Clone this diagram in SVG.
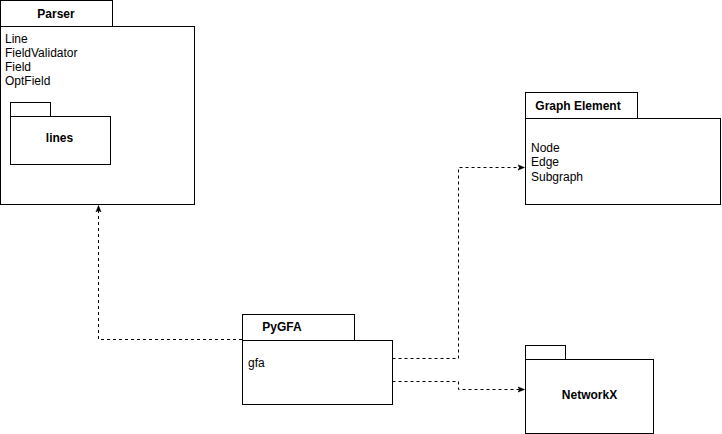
<svg xmlns="http://www.w3.org/2000/svg" width="722" height="434" viewBox="0 0 722 434">
<style>
.box{fill:#fff;stroke:#000;stroke-width:1}
.t{font-family:"Liberation Sans",Arial,sans-serif;font-size:12px;fill:#000}
.b{font-weight:bold;text-anchor:middle}
.e{fill:none;stroke:#000;stroke-width:1;stroke-dasharray:3,3}
</style>
<defs>
<marker id="arr" viewBox="0 0 10 10" refX="9" refY="5" markerWidth="7" markerHeight="7" orient="auto" markerUnits="userSpaceOnUse">
<path d="M0,1 L10,5 L0,9 L2.5,5 Z" fill="#000" stroke="#000" stroke-width="0.5"/>
</marker>
</defs>
<rect width="722" height="434" fill="#fff"/>
<g id="connectors">
<path class="e" d="M242.5,357 L242.5,339.5 L98.5,339.5 L98.5,206" marker-end="url(#arr)"/>
<path class="e" d="M392.5,358.5 L458.5,358.5 L458.5,167.5 L524,167.5" marker-end="url(#arr)"/>
<path class="e" d="M392.5,381.5 L458.5,381.5 L458.5,389.5 L524,389.5" marker-end="url(#arr)"/>
</g>
<g id="parser">
<rect class="box" x="0.5" y="0.5" width="112" height="26"/>
<rect class="box" x="0.5" y="26.5" width="194" height="178"/>
<text class="t b" x="56" y="18">Parser</text>
<text class="t" x="5" y="43">Line</text>
<text class="t" x="5" y="57">FieldValidator</text>
<text class="t" x="5" y="71">Field</text>
<text class="t" x="5" y="85">OptField</text>
</g>
<g id="lines">
<rect class="box" x="10.5" y="102.5" width="40" height="14"/>
<rect class="box" x="10.5" y="116.5" width="100" height="48"/>
<text class="t b" x="59.5" y="142">lines</text>
</g>
<g id="graph-element">
<rect class="box" x="525.5" y="92.5" width="112" height="26"/>
<rect class="box" x="525.5" y="118.5" width="195" height="86"/>
<text class="t b" x="578" y="110">Graph Element</text>
<text class="t" x="531" y="152">Node</text>
<text class="t" x="531" y="166">Edge</text>
<text class="t" x="531" y="181">Subgraph</text>
</g>
<g id="pygfa">
<rect class="box" x="242.5" y="314.5" width="112" height="26"/>
<rect class="box" x="242.5" y="340.5" width="150" height="64"/>
<text class="t b" x="282" y="331">PyGFA</text>
<text class="t" x="248" y="367">gfa</text>
</g>
<g id="networkx">
<rect class="box" x="525.5" y="345.5" width="40" height="14"/>
<rect class="box" x="525.5" y="359.5" width="128" height="74"/>
<text class="t b" x="589.5" y="399">NetworkX</text>
</g>
</svg>
